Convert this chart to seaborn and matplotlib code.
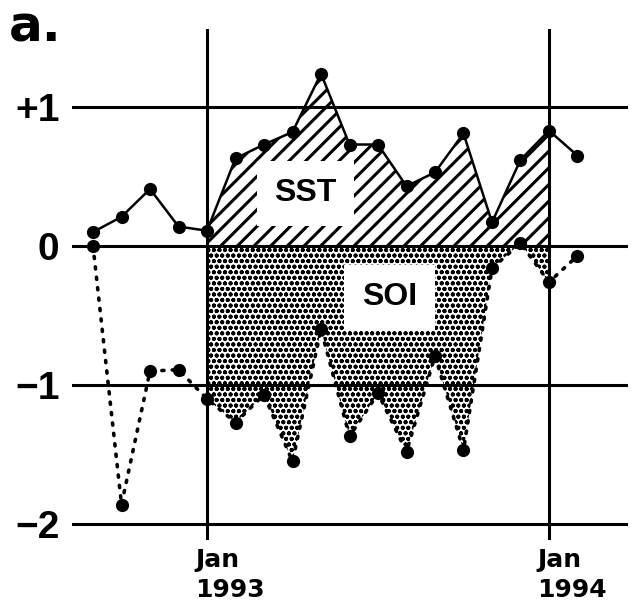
import numpy as np
import pandas as pd
import matplotlib.pyplot as plt
import matplotlib.transforms as mtransforms
import seaborn as sns

# -----------------------------
# DATA (monthly anomalies, Sep 1992 - Feb 1994)
# -----------------------------
months = ["Sep 1992", "Oct 1992", "Nov 1992", "Dec 1992",
          "Jan 1993", "Feb 1993", "Mar 1993", "Apr 1993", "May 1993", "Jun 1993",
          "Jul 1993", "Aug 1993", "Sep 1993", "Oct 1993", "Nov 1993", "Dec 1993",
          "Jan 1994", "Feb 1994"]
sst = [0.10, 0.21, 0.41, 0.14, 0.11, 0.63, 0.73, 0.82, 1.24, 0.73,
       0.73, 0.43, 0.53, 0.81, 0.17, 0.62, 0.83, 0.65]
soi = [0.00, -1.86, -0.90, -0.89, -1.10, -1.27, -1.07, -1.55, -0.60, -1.37,
       -1.06, -1.48, -0.79, -1.47, -0.16, 0.02, -0.26, -0.07]

y_ticks = [1, 0, -1, -2]
y_tick_labels = ["+1", "0", "\u22121", "\u22122"]
jan_labels = ["Jan 1993", "Jan 1994"]

# month offset relative to Jan 1993
x = np.arange(len(months)) - months.index("Jan 1993")
df = pd.DataFrame({"month": x, "SST": sst, "SOI": soi})
jan_pos = [months.index(m) - months.index("Jan 1993") for m in jan_labels]

# -----------------------------
# FIGURE
# -----------------------------
sns.set_style("white")
plt.rcParams['font.family'] = ['Liberation Sans', 'DejaVu Sans']
plt.rcParams['text.color'] = 'black'
plt.rcParams['ytick.color'] = 'black'
plt.rcParams['ytick.labelcolor'] = 'black'
plt.rcParams['hatch.linewidth'] = 1.6

fig = plt.figure(figsize=(6.37, 6.12), dpi=100)
ax = fig.add_axes([72 / 637, 1 - 540 / 612, 556 / 637, 511 / 612])
ax.set_xlim(-4.737, 14.772)
ax.set_ylim(-2.115, 1.561)

# shaded anomalies during 1993
win = df[(df.month >= jan_pos[0]) & (df.month <= jan_pos[1])]
f1 = ax.fill_between(win.month, win.SST, 0, facecolor='white', edgecolor='black',
                     hatch='//', linewidth=0, zorder=1)
f2 = ax.fill_between(win.month, win.SOI, 0, facecolor='white', edgecolor='black',
                     hatch='ooo', linewidth=0, zorder=1)
if hasattr(f1, 'set_hatch_linewidth'):
    f1.set_hatch_linewidth(2.2)
    f2.set_hatch_linewidth(1.3)

# reference lines
for t in y_ticks:
    ax.axhline(t, color='black', lw=2.2, zorder=3)
for p in jan_pos:
    ax.axvline(p, color='black', lw=2.2, zorder=3)

# series
sns.lineplot(data=df, x="month", y="SST", color='black', lw=1.8,
             marker='o', markersize=9.5, markeredgewidth=0, ax=ax, zorder=5)
sns.lineplot(data=df, x="month", y="SOI", color='black', lw=2.6,
             linestyle=(0, (0.6, 2.3)), dash_capstyle='round',
             marker='o', markersize=9.5, markeredgewidth=0, ax=ax, zorder=5)

# labels inside the shaded areas
box = dict(boxstyle='square,pad=0.55', facecolor='white', edgecolor='none')
ax.text(3.45, 0.38, "SST", fontsize=23, fontweight='bold', ha='center', va='center',
        color='black', bbox=box, zorder=4)
ax.text(6.4, -0.37, "SOI", fontsize=23, fontweight='bold', ha='center', va='center',
        color='black', bbox=box, zorder=4)

# axes cosmetics
for s in ax.spines.values():
    s.set_visible(False)
ax.set_xlabel("")
ax.set_ylabel("")
ax.set_xticks([])
ax.set_yticks(y_ticks, labels=y_tick_labels)
ax.tick_params(axis='y', length=0, pad=9, labelsize=28, labelcolor='black')
for lab in ax.get_yticklabels():
    lab.set_fontweight('bold')

trans = mtransforms.blended_transform_factory(ax.transData, ax.transAxes)
for p, lab in zip(jan_pos, jan_labels):
    ax.text(p - 0.42, -0.015, lab.replace(" ", "\n"), transform=trans,
            ha='left', va='top', fontsize=18, fontweight='bold', color='black',
            family='DejaVu Sans', linespacing=1.35)

fig.text(0.014, 0.995, "a.", fontsize=36, fontweight='bold', ha='left', va='top',
         color='black', family='DejaVu Sans')

fig.savefig("out.png", dpi=100)
